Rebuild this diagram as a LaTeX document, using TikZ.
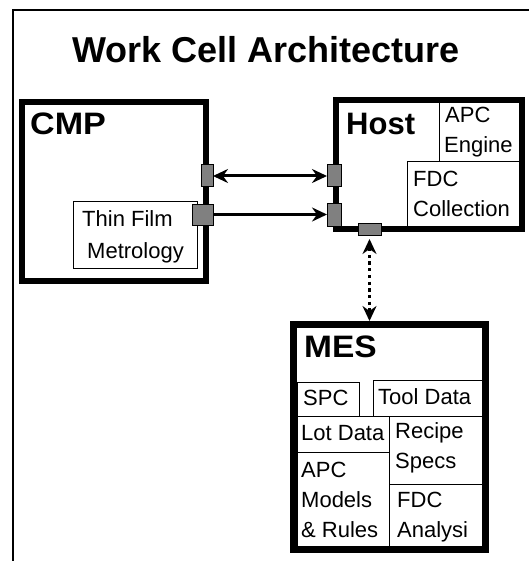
\documentclass[tikz,border=0pt]{standalone}
\usepackage{fontspec}
\setmainfont{Liberation Sans}
\usetikzlibrary{arrows.meta}
\definecolor{portgray}{RGB}{128,128,128}
\tikzset{wtip/.tip={Stealth[length=15pt, width=14pt, inset=5pt]}}
\begin{document}
\begin{tikzpicture}[x=1pt,y=-1pt,
  big/.style={draw, rectangle, inner sep=0pt},
  cell/.style={draw, line width=1pt, rectangle, inner sep=0pt, outer sep=0pt, anchor=north west},
  port/.style={draw, line width=1pt, fill=portgray, rectangle, inner sep=0pt, outer sep=0pt},
  txt/.style={inner sep=0pt, anchor=base west, font=\fontsize{22}{24}\selectfont},
  head/.style={inner sep=0pt, anchor=base west, font=\bfseries\fontsize{31}{33}\selectfont},
  ttl/.style={inner sep=0pt, anchor=base west, font=\bfseries\fontsize{36}{38}\selectfont},
  arr/.style={line width=3pt},
  dotarr/.style={line width=3pt, dash pattern=on 3.3pt off 3.4pt}
]
\useasboundingbox (0,0) rectangle (528,561);
% outer frame
\draw[line width=2pt] (529,10) -- (13,10) -- (13,562);
% title
\node[ttl] (title) at (72,63) {Work Cell Architecture};

% CMP
\node[big, line width=6pt, minimum width=184pt, minimum height=179pt] (cmp) at (114,191.5) {};
\node[head] (cmplbl) at (30,135) {\scalebox{1.1}[1]{CMP}};
\node[cell, minimum width=124pt, minimum height=67pt] (tfm) at (73,201) {};
\node[txt] (tfm1) at (82,226) {Thin Film};
\node[txt] (tfm2) at (87,258) {Metrology};

% Host
\node[big, line width=6pt, minimum width=186pt, minimum height=129pt] (host) at (429,164.5) {};
\node[head] (hostlbl) at (346,135) {Host};
\node[cell, minimum width=80pt, minimum height=59pt] (apce) at (439,103) {};
\node[txt] (apce1) at (445,123) {APC};
\node[txt] (apce2) at (444,153) {Engine};
\node[cell, minimum width=112pt, minimum height=64pt] (fdcc) at (407,162) {};
\node[txt] (fdcc1) at (413,186) {FDC};
\node[txt] (fdcc2) at (413,216) {Collection};

% MES
\node[big, line width=7pt, minimum width=192pt, minimum height=225pt] (mes) at (389.5,437) {};
\node[head] (meslbl) at (304,357) {\scalebox{1.08}[1]{MES}};
\node[cell, minimum width=62pt, minimum height=34pt] (spc) at (297,382) {};
\node[txt] (spc1) at (303,405) {SPC};
\node[cell, minimum width=109pt, minimum height=36pt] (tool) at (373,380) {};
\node[txt] (tool1) at (378,404) {Tool Data};
\node[cell, minimum width=92pt, minimum height=36pt] (lot) at (297,416) {};
\node[txt] (lot1) at (301,440) {Lot Data};
\node[cell, minimum width=93pt, minimum height=68pt] (recipe) at (389,416) {};
\node[txt] (recipe1) at (395,438) {Recipe};
\node[txt] (recipe2) at (395,468) {Specs};
\node[cell, minimum width=92pt, minimum height=95pt] (apcm) at (297,452) {};
\node[txt] (apcm1) at (301,477) {APC};
\node[txt] (apcm2) at (301,507) {Models};
\node[txt] (apcm3) at (301,537) {\& Rules};
\node[cell, minimum width=93pt, minimum height=63pt] (fdca) at (389,484) {};
\node[txt] (fdca1) at (397,507) {FDC};
\node[txt] (fdca2) at (397,537) {Analysi};

% ports
\node[port, minimum width=12pt, minimum height=22pt] (cmpA) at (207,176) {};
\node[port, minimum width=21pt, minimum height=21pt] (cmpB) at (202.5,214.5) {};
\node[port, minimum width=14pt, minimum height=22pt] (hostA) at (334,176) {};
\node[port, minimum width=14pt, minimum height=23pt] (hostB) at (334,215) {};
\node[port, minimum width=23pt, minimum height=12pt] (hostC) at (369.5,229) {};

% connectors
\draw[arr, {wtip}-{wtip}] (cmpA.east) -- (hostA.west);
\draw[arr, -{wtip}] (cmpB.east) -- (cmpB.east -| hostB.west);
\draw[dotarr, {wtip}-{wtip}] ([yshift=-4pt]hostC.south) -- (hostC.south |- mes.north);
\end{tikzpicture}
\end{document}
